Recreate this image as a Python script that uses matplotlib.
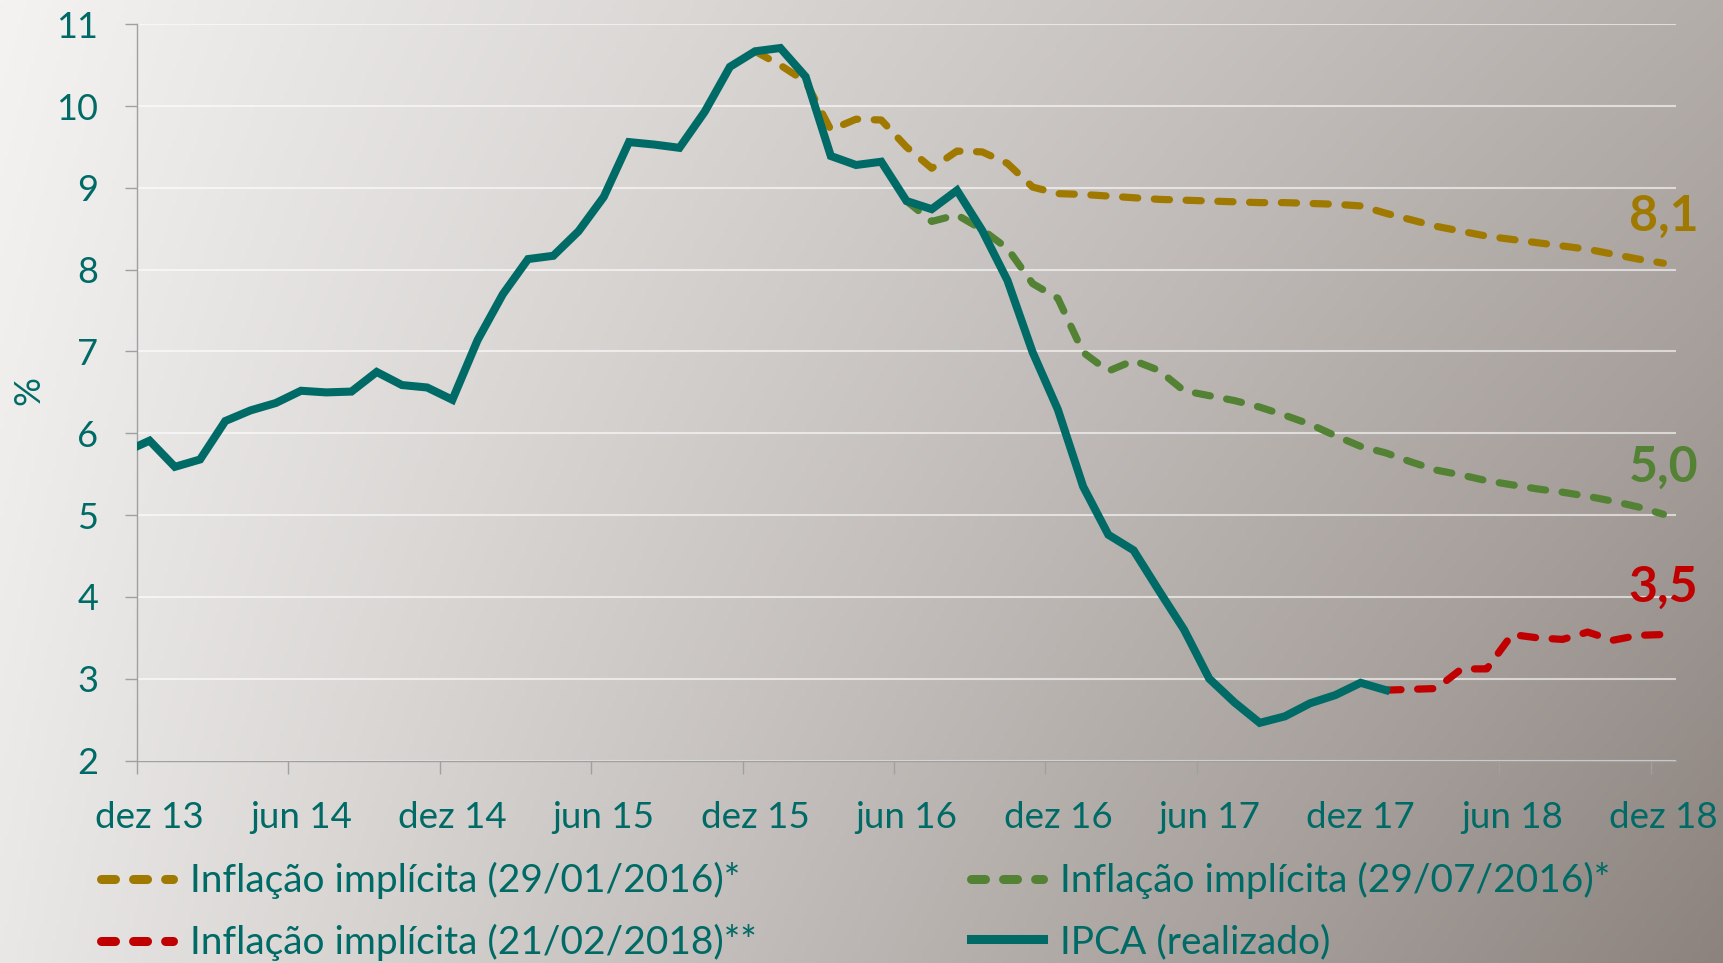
import numpy as np
import matplotlib.pyplot as plt

plt.rcParams['font.family'] = ['Lato', 'DejaVu Sans']

# month index: dez 13 = 0 ... dez 18 = 60 (one category per month)
tick_labels = ['dez 13', 'jun 14', 'dez 14', 'jun 15', 'dez 15', 'jun 16',
               'dez 16', 'jun 17', 'dez 17', 'jun 18', 'dez 18']

# IPCA 12m realizado, nov 13 (index -1) .. jan 18 (index 49)
ipca_start = -1
ipca = [5.77, 5.91, 5.59, 5.68, 6.15, 6.28, 6.37, 6.52, 6.50, 6.51, 6.75, 6.59,
        6.56, 6.41, 7.14, 7.70, 8.13, 8.17, 8.47, 8.89, 9.56, 9.53, 9.49, 9.93,
        10.48, 10.67, 10.71, 10.36, 9.39, 9.28, 9.32, 8.84, 8.74, 8.97, 8.48, 7.87,
        6.99, 6.29, 5.35, 4.76, 4.57, 4.08, 3.60, 3.00, 2.71, 2.46, 2.54, 2.70,
        2.80, 2.95, 2.86]

# Inflação implícita (29/01/2016), dez 15 .. dez 18
impl_jan16_start = 24
impl_jan16 = [10.67, 10.50, 10.30, 9.71, 9.84, 9.83, 9.50, 9.24, 9.45, 9.44,
              9.30, 9.01, 8.93, 8.92, 8.90, 8.88, 8.86, 8.85, 8.84, 8.83,
              8.82, 8.82, 8.81, 8.80, 8.78, 8.69, 8.61, 8.53, 8.47, 8.41,
              8.37, 8.33, 8.29, 8.25, 8.19, 8.13, 8.08]

# Inflação implícita (29/07/2016), jun 16 .. dez 18
impl_jul16_start = 30
impl_jul16 = [8.84, 8.59, 8.67, 8.49, 8.26, 7.83, 7.65, 6.99, 6.76, 6.89,
              6.77, 6.52, 6.46, 6.40, 6.32, 6.22, 6.11, 5.97, 5.84, 5.76,
              5.65, 5.55, 5.49, 5.42, 5.37, 5.32, 5.28, 5.23, 5.17, 5.10, 5.01]

# Inflação implícita (21/02/2018), jan 18 .. dez 18
impl_feb18_start = 49
impl_feb18 = [2.86, 2.87, 2.88, 3.12, 3.12, 3.54, 3.50, 3.48, 3.57, 3.47,
              3.53, 3.54]

teal = '#006B66'
gold = '#A07A00'
green = '#548235'
red = '#C00000'

W, H = 1724, 963
fig = plt.figure(figsize=(W / 100, H / 100), dpi=100)

# background gradient
bg = fig.add_axes([0, 0, 1, 1], zorder=-10)
xx, yy = np.meshgrid(np.linspace(0, 1, 400), np.linspace(0, 1, 220))
f = np.clip(0.62 * xx + 0.28 * xx * yy + 0.1 * yy, 0, 1)[..., None]
c0 = np.array([244, 243, 242]) / 255
c1 = np.array([140, 131, 126]) / 255
bg.imshow(c0 + (c1 - c0) * f, aspect='auto', extent=[0, 1, 0, 1])
bg.axis('off')

ax = fig.add_axes([137 / W, 1 - 760.5 / H, (1676 - 137) / W, (760.5 - 24.3) / H])
ax.patch.set_alpha(0)

dash = (2.1, 2.3)
l1, = ax.plot(np.arange(len(impl_jan16)) + impl_jan16_start, impl_jan16, color=gold,
              lw=5.2, dashes=dash, dash_capstyle='round')
l2, = ax.plot(np.arange(len(impl_jul16)) + impl_jul16_start, impl_jul16, color=green,
              lw=5.2, dashes=dash, dash_capstyle='round')
l3, = ax.plot(np.arange(len(impl_feb18)) + impl_feb18_start, impl_feb18, color=red,
              lw=5.2, dashes=dash, dash_capstyle='round')
l4, = ax.plot(np.arange(len(ipca)) + ipca_start, ipca, color=teal, lw=5.8,
              solid_joinstyle='miter', zorder=5)

# end value labels
for series, start, col in [(impl_jan16, impl_jan16_start, gold),
                           (impl_jul16, impl_jul16_start, green),
                           (impl_feb18, impl_feb18_start, red)]:
    xe = start + len(series) - 1
    ax.annotate(f'{series[-1]:.1f}'.replace('.', ','), (xe, series[-1]),
                xytext=(0, 34), textcoords='offset points', ha='center', va='center',
                color=col, fontsize=36, fontweight='bold')

ax.set_xlim(-0.5, 60.5)
ax.set_ylim(2, 11)
ax.set_yticks(range(2, 12))
ax.grid(axis='y', color='white', alpha=0.6, lw=1.5)
ax.set_axisbelow(True)

ax.set_xticks(np.arange(-0.5, 60, 6))
ax.set_xticklabels([])
ax.set_xticks(np.arange(0, 61, 6), minor=True)
ax.set_xticklabels(tick_labels, minor=True)
ax.tick_params(axis='x', which='major', length=9, color='#a0a0a0', width=1)
ax.tick_params(axis='x', which='minor', length=0, pad=29, labelsize=26.5, labelcolor=teal)
ax.tick_params(axis='y', length=9, color='#a0a0a0', width=1, pad=19,
               labelsize=26, labelcolor=teal)

for s in ['top', 'right']:
    ax.spines[s].set_visible(False)
for s in ['left', 'bottom']:
    ax.spines[s].set_color('#a0a0a0')
    ax.spines[s].set_linewidth(1)

fig.text(29 / W, 1 - 390 / H, '%', rotation=90, ha='center', va='center',
         color=teal, fontsize=26)

leg_kw = dict(frameon=False, fontsize=28, labelcolor=teal, handlelength=1.85,
              handletextpad=0.44, labelspacing=0.64, borderpad=0, borderaxespad=0,
              loc='upper left')
leg1 = fig.legend([l1, l3], ['Inflação implícita (29/01/2016)*',
                              'Inflação implícita (21/02/2018)**'],
                  bbox_to_anchor=(101 / W, 1 - 862 / H), **leg_kw)
leg2 = fig.legend([l2, l4], ['Inflação implícita (29/07/2016)*', 'IPCA (realizado)'],
                  bbox_to_anchor=(971 / W, 1 - 862 / H), **leg_kw)
for leg in (leg1, leg2):
    for ln in leg.get_lines():
        ln.set_linewidth(6.5)
        if ln.get_linestyle() != '-':
            ln.set_dashes((1.55, 2.0))

fig.savefig('out.png', dpi=100)
